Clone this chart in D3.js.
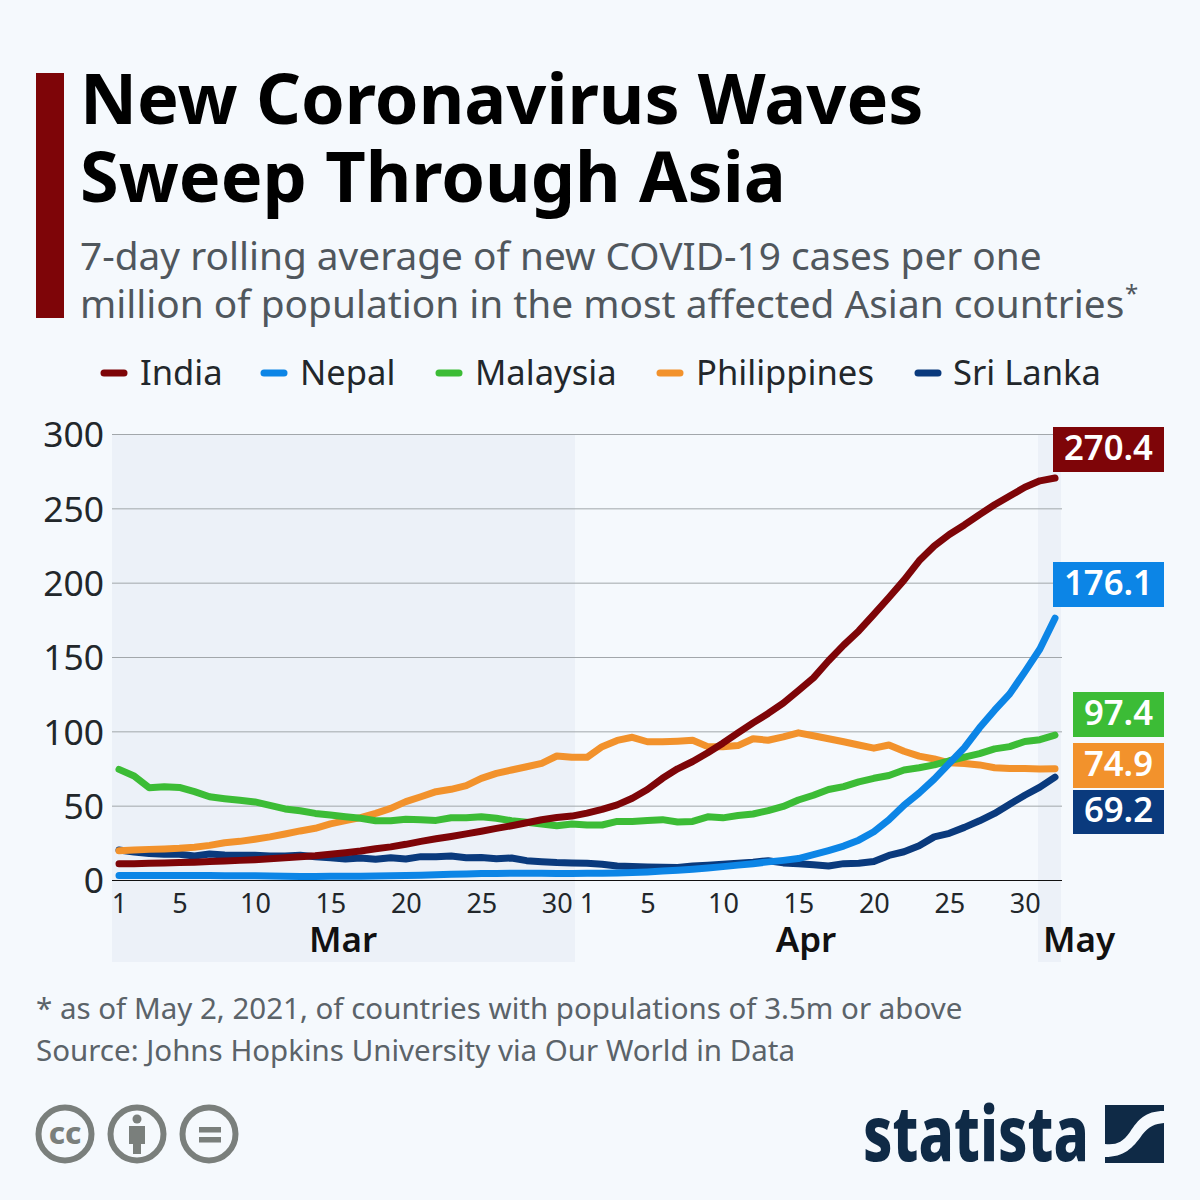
<!DOCTYPE html>
<html><head><meta charset="utf-8">
<script src="https://cdn.jsdelivr.net/npm/d3@7/dist/d3.min.js"></script>
<style>html,body{margin:0;padding:0;background:#f5f9fd}svg{display:block}text{font-family:"Noto Sans",sans-serif}</style>
</head><body><svg id="c" width="1200" height="1200"></svg>
<script>
const india=[11,11,11.2,11.5,11.8,12,12.4,12.8,13.2,13.7,14.3,15,15.7,16.3,17.3,18.3,19.5,21,22.3,24,26,27.7,29.3,31,32.8,34.7,36.5,38.5,40.5,42,43,45,47.5,50.5,55,60.9,68.4,74.8,79.7,85.6,92,99,105.7,112,119,127.4,136,147.5,158,167.5,178.6,190,201.7,214.7,224.6,232.4,238.8,245.8,252.4,258.3,264.2,268.5,270.4];
const nepal=[3,3,3,3,3,3,3,2.9,2.9,2.8,2.7,2.5,2.4,2.4,2.5,2.5,2.6,2.7,2.8,3,3.2,3.5,3.8,4.1,4.3,4.4,4.5,4.5,4.5,4.4,4.4,4.5,4.6,4.7,5,5.4,6,6.6,7.2,8,9,10,11,12.2,13.2,14.4,17,19.8,22.8,26.8,32.5,40.5,50.3,58.5,67.8,78.5,89,102.4,114.2,125.2,140,155.4,176.1];
const malaysia=[74.4,70,62,62.8,62.3,59.4,56,54.7,53.6,52.5,50.2,47.8,46.6,44.8,43.7,42.6,41.5,39.9,39.9,40.8,40.6,40.1,41.9,41.9,42.6,41.5,39.9,38.8,37.7,36.5,37.7,37,37,39.4,39.4,40,40.6,39,39.4,42.5,41.8,43.4,44.4,46.7,49.5,53.8,57,60.9,62.8,66,68.4,70.3,74,75.5,77.4,80.2,82.6,85,88.2,89.7,93.2,94.4,97.4];
const philippines=[19.7,20.2,20.6,20.9,21.3,22,23.3,25.1,26,27.4,29,30.9,33,34.8,37.7,39.9,42,44.8,48.2,52.7,56,59.4,61,63.5,68.4,71.7,74,76.2,78.5,83.4,82.5,82.5,89.7,93.9,96,93,93,93.4,94,89.7,89.7,90.4,95,94,96.3,99,97,95,93,90.8,88.7,90.8,86.6,83.3,81.4,78.8,78.3,77.4,75.5,75,75,74.6,74.9];
const sriLanka=[20.2,18.8,17.9,17.3,17.3,16.1,17.5,16.8,16.6,16.6,16.1,16.1,16.6,15.7,15,14.1,14.8,13.9,15,14.1,15.7,15.7,16.1,15,15.2,14.3,14.8,13,12.3,11.7,11.4,11.2,10.6,9.4,9,8.7,8.5,8.4,9.4,10,10.6,11.3,12,13,11.5,10.9,10.2,9.4,11,11.3,12.5,16.5,19,23,29,31.4,35.4,39.8,44.8,51,57,62.5,69.2];
const seriesNames=["India","Nepal","Malaysia","Philippines","Sri Lanka"];
const seriesColors=["#7e0508","#0c85e6","#3cbc36","#f2922c","#0a3a7d"];
const yTicks=[0,50,100,150,200,250,300];
const xTickDays=[0,4,9,14,19,24,29,31,35,40,45,50,55,60];
const xTickLabels=["1","5","10","15","20","25","30","1","5","10","15","20","25","30"];
const months=["Mar","Apr","May"];
const endLabels=["270.4","176.1","97.4","74.9","69.2"];
const title=["New Coronavirus Waves","Sweep Through Asia"];
const subtitle=["7-day rolling average of new COVID-19 cases per one","million of population in the most affected Asian countries"];
const notes=["* as of May 2, 2021, of countries with populations of 3.5m or above","Source: Johns Hopkins University via Our World in Data"];

const svg=d3.select("#c");
const x=d3.scaleLinear().domain([0,62]).range([119,1055]);
const y=d3.scaleLinear().domain([0,300]).range([880,434]);
svg.append("rect").attr("width",1200).attr("height",1200).attr("fill","#f5f9fd");
svg.append("rect").attr("x",36).attr("y",73).attr("width",28).attr("height",245).attr("fill","#7e0508");
const T=svg.append("g");
title.forEach((t,i)=>T.append("text").attr("x",80).attr("y",124+i*78).attr("font-size",70.2).attr("font-weight",700).attr("fill","#000").text(t));
subtitle.forEach((t,i)=>T.append("text").attr("x",80).attr("y",270+i*48).attr("font-size",38.8).attr("fill","#50575d").text(t));
T.append("text").attr("x",1125).attr("y",302).attr("font-size",24).attr("fill","#50575d").text("*");
// legend
const legX=[101,261,436,657,915], legTx=[140,300,475,696,953];
seriesNames.forEach((n,i)=>{
  T.append("line").attr("x1",legX[i]+3).attr("x2",legX[i]+23).attr("y1",373).attr("y2",373).attr("stroke",seriesColors[i]).attr("stroke-width",7).attr("stroke-linecap","round");
  T.append("text").attr("x",legTx[i]).attr("y",385).attr("font-size",34.6).attr("fill","#22272b").text(n);
});
// bands
svg.append("rect").attr("x",112).attr("y",434).attr("width",463).attr("height",528).attr("fill","#ecf1f8");
svg.append("rect").attr("x",1038).attr("y",434).attr("width",23).attr("height",528).attr("fill","#ecf1f8");
// y axis
const ya=svg.append("g").attr("transform","translate(112,0)").call(d3.axisLeft(y).tickValues(yTicks).tickSize(0).tickPadding(8));
ya.select(".domain").remove();
ya.selectAll("text").attr("font-size",35.4).attr("fill","#22272b").style("font-family",'"Noto Sans"').attr("dy","0.36em");
const gr=svg.append("g").attr("transform","translate(112,0)").call(d3.axisRight(y).tickValues(yTicks).tickSize(950).tickFormat(""));
gr.select(".domain").remove();
gr.selectAll("line").attr("stroke",d=>d===0?"#111":"#a2a7ab").attr("stroke-width",1);
// x axis
const xa=svg.append("g").attr("transform","translate(0,880)").call(d3.axisBottom(x).tickValues(xTickDays).tickSize(0).tickPadding(14).tickFormat((d,i)=>xTickLabels[i]));
xa.select(".domain").remove();
xa.selectAll("text").attr("font-size",27).attr("fill","#22272b").style("font-family",'"Noto Sans"');
const monthX=[343,806,1079];
months.forEach((m,i)=>svg.append("text").attr("x",monthX[i]).attr("y",952).attr("text-anchor","middle").attr("font-size",35).attr("font-weight",600).attr("fill","#111").text(m));
// lines
const line=d3.line().x((d,i)=>x(i)).y(d=>y(d));
const order=[[sriLanka,4],[philippines,3],[malaysia,2],[india,0],[nepal,1]];
order.forEach(([s,i])=>svg.append("path").attr("d",line(s)).attr("fill","none").attr("stroke",seriesColors[i]).attr("stroke-width",7).attr("stroke-linecap","round").attr("stroke-linejoin","round"));
// end labels
const boxes=[[1053,427,111,45],[1053,562,111,45],[1073,692,91,45],[1073,743,91,45],[1073,790,91,44]];
endLabels.forEach((l,i)=>{
  const b=boxes[i];
  svg.append("rect").attr("x",b[0]).attr("y",b[1]).attr("width",b[2]).attr("height",b[3]).attr("fill",seriesColors[i]);
  svg.append("text").attr("x",b[0]+b[2]/2).attr("y",b[1]+b[3]/2+10).attr("text-anchor","middle").attr("font-size",34.7).attr("font-weight",600).attr("fill","#fff").text(l);
});
// notes
notes.forEach((t,i)=>svg.append("text").attr("x",36).attr("y",1019+i*42).attr("font-size",29.5).attr("fill","#5b6369").text(t));
// cc icons
const gc="#7a7f7c";
const ic=[65,137,209];
ic.forEach(cx=>svg.append("circle").attr("cx",cx).attr("cy",1134).attr("r",26.5).attr("fill","none").attr("stroke",gc).attr("stroke-width",6));
svg.append("text").attr("x",65).attr("y",1144).attr("text-anchor","middle").attr("font-size",31).attr("font-weight",800).attr("fill",gc).text("cc");
svg.append("circle").attr("cx",137).attr("cy",1119).attr("r",4.5).attr("fill",gc);
svg.append("path").attr("d","M129 1126H145V1144H141V1154H133V1144H129Z").attr("fill",gc);
svg.append("rect").attr("x",199).attr("y",1127).attr("width",22).attr("height",5.5).attr("fill",gc);
svg.append("rect").attr("x",199).attr("y",1137).attr("width",22).attr("height",5.5).attr("fill",gc);
// logo
const nv="#0f2a46";
svg.append("text").attr("x",0).attr("y",0).attr("transform","translate(863,1161) scale(0.765,1)").attr("font-size",76).attr("font-weight",800).attr("fill",nv).text("statista");
svg.append("path").attr("d","M1105 1105H1164V1111C1145 1111 1138 1120 1130 1132C1122 1143 1116 1145 1105 1144Z").attr("fill",nv);
svg.append("path").attr("d","M1164 1123V1163H1105V1157C1124 1157 1133 1148 1142 1135C1149 1126 1155 1124 1164 1123Z").attr("fill",nv);
</script></body></html>
